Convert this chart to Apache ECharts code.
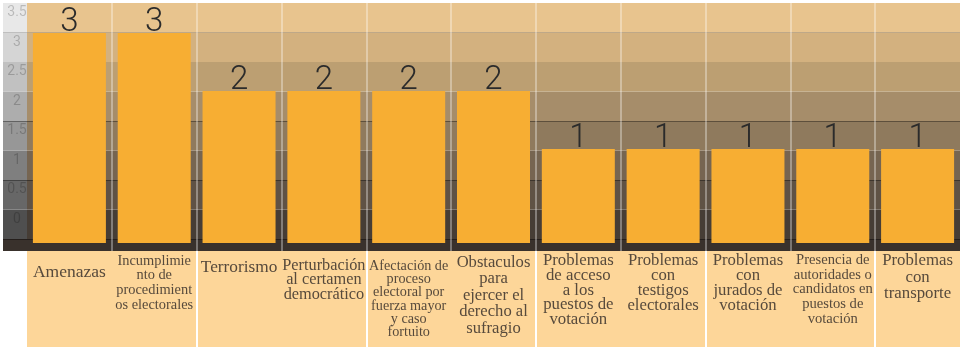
<!DOCTYPE html>
<html>
<head>
<meta charset="utf-8">
<script src="https://cdn.jsdelivr.net/npm/echarts@6/dist/echarts.min.js"></script>
<style>
  html, body { margin: 0; padding: 0; background: #ffffff; }
  #chart { width: 960px; height: 347px; }
</style>
</head>
<body>
<div id="chart"></div>
<script>
// Categories of reported incidents (line breaks as printed under each column)
const categories = [
  'Amenazas',
  'Incumplimie\nnto de\nprocedimient\nos electorales',
  'Terrorismo',
  'Perturbación\nal certamen\ndemocrático',
  'Afectación de\nproceso\nelectoral por\nfuerza mayor\ny caso\nfortuito',
  'Obstaculos\npara\nejercer el\nderecho al\nsufragio',
  'Problemas\nde acceso\na los\npuestos de\nvotación',
  'Problemas\ncon\ntestigos\nelectorales',
  'Problemas\ncon\njurados de\nvotación',
  'Presencia de\nautoridades o\ncandidatos en\npuestos de\nvotación',
  'Problemas\ncon\ntransporte'
];

// Number of reports per category
const counts = [3, 3, 2, 2, 2, 2, 1, 1, 1, 1, 1];

// Side scale: 0 to 3.5 in steps of 0.5
const scaleMin = 0;
const scaleMax = 4;
const scaleStep = 0.5;

// Typography for each category label
const labelStyles = [
  { fontSize: 17.5, lineHeight: 18,   pad: 12 },
  { fontSize: 14.4, lineHeight: 14.7, pad: 2.5 },
  { fontSize: 17.3, lineHeight: 18,   pad: 7.5 },
  { fontSize: 16.3, lineHeight: 14.4, pad: 7.5 },
  { fontSize: 14.2, lineHeight: 13.1, pad: 9 },
  { fontSize: 16.6, lineHeight: 16.4, pad: 3.5 },
  { fontSize: 16.8, lineHeight: 14.7, pad: 2.5 },
  { fontSize: 16.7, lineHeight: 14.9, pad: 2.5 },
  { fontSize: 16.7, lineHeight: 14.8, pad: 2.5 },
  { fontSize: 14.6, lineHeight: 14.8, pad: 1.5 },
  { fontSize: 16.8, lineHeight: 16.6, pad: 1.5 }
];

const plotBands = ['#463D35', '#5F5245', '#766551', '#8F7A5D', '#A68D6A', '#BC9F72', '#D3B17F', '#E8C48E'];
const sideBands = ['#4F4F4F', '#676767', '#7F7F7F', '#979797', '#ADADAD', '#C1C1C1', '#D5D5D5', '#E8E8E8'];
const ruleColors = ['rgba(0,0,0,0.35)', 'rgba(0,0,0,0)', 'rgba(0,0,0,0.35)', 'rgba(0,0,0,0)',
  'rgba(0,0,0,0.35)', 'rgba(0,0,0,0)', 'rgba(0,0,0,0)', 'rgba(0,0,0,0.18)', 'rgba(0,0,0,0)'];

const labelFont = '"Liberation Serif", "DejaVu Serif", serif';
const numberFont = 'Roboto, "Open Sans", sans-serif';

const chart = echarts.init(document.getElementById('chart'), null, { renderer: 'canvas' });

chart.setOption({
  animation: false,
  backgroundColor: '#ffffff',
  grid: [
    // 0: bars
    { left: 27, right: 0, top: 3, bottom: 96, z: 3 },
    // 1: striped backdrop behind the bars
    { left: 27, right: 0, top: 3, bottom: 108, z: 0 },
    // 2: side column with the scale
    { left: 3, width: 24, top: 3, bottom: 108, z: 0 },
    // 3: dark floor strip
    { left: 3, right: 0, top: 239, bottom: 96, show: true, backgroundColor: '#39312C', borderWidth: 0, z: 0 },
    // 4: label tray
    { left: 27, right: 0, top: 251, bottom: 0, show: true, backgroundColor: '#FDD699', borderWidth: 0, z: 0 }
  ],
  xAxis: [
    {
      gridIndex: 0, type: 'category', data: categories.map((c, i) => ({
        value: c,
        textStyle: {
          fontSize: labelStyles[i].fontSize,
          lineHeight: labelStyles[i].lineHeight,
          padding: [labelStyles[i].pad, 0, 0, 0]
        }
      })),
      z: 4,
      axisLine: { show: false }, axisTick: { show: false },
      axisLabel: {
        interval: 0, margin: 0, verticalAlign: 'top', align: 'center',
        color: '#574A3C', fontFamily: labelFont
      },
      splitLine: {
        show: true, showMinLine: false, showMaxLine: false,
        lineStyle: { color: 'rgba(255,255,255,0.45)', width: 1.5 }
      }
    },
    { gridIndex: 1, type: 'category', data: categories, show: false },
    { gridIndex: 2, type: 'category', data: ['s'], show: false },
    { gridIndex: 3, type: 'category', data: categories, show: false },
    {
      gridIndex: 4, type: 'category', data: categories, z: 1,
      axisLine: { show: false }, axisTick: { show: false }, axisLabel: { show: false },
      splitLine: { show: true, showMinLine: false, showMaxLine: false, lineStyle: { color: '#ffffff', width: 2 } }
    }
  ],
  yAxis: [
    { gridIndex: 0, type: 'value', min: -0.7586, max: 3.5172, startValue: -0.62, show: false },
    {
      gridIndex: 1, type: 'value', min: scaleMin, max: scaleMax, interval: scaleStep, z: 0,
      axisLine: { show: false }, axisTick: { show: false }, axisLabel: { show: false },
      splitArea: { show: true, areaStyle: { color: plotBands } },
      splitLine: { show: true, lineStyle: { color: ruleColors, width: 1 } }
    },
    {
      gridIndex: 2, type: 'value', min: scaleMin, max: scaleMax, interval: scaleStep, z: 0,
      axisLine: { show: false }, axisTick: { show: false },
      axisLabel: {
        inside: true, showMaxLabel: false, align: 'center', margin: 14,
        verticalAlign: 'bottom', padding: [0, 0, 13, 0],
        color: 'rgba(0,0,0,0.2)', fontSize: 14, fontFamily: numberFont
      },
      splitArea: { show: true, areaStyle: { color: sideBands } },
      splitLine: { show: true, lineStyle: { color: ruleColors, width: 1 } }
    },
    { gridIndex: 3, type: 'value', show: false },
    { gridIndex: 4, type: 'value', show: false }
  ],
  series: [
    {
      type: 'bar', xAxisIndex: 0, yAxisIndex: 0, z: 5,
      data: counts,
      barWidth: 73,
      itemStyle: { color: '#F7AE33' },
      label: {
        show: true, position: 'top', distance: -6,
        fontSize: 33, fontWeight: 300, fontFamily: numberFont, color: '#2B2B2B'
      }
    }
  ]
});
</script>
</body>
</html>
